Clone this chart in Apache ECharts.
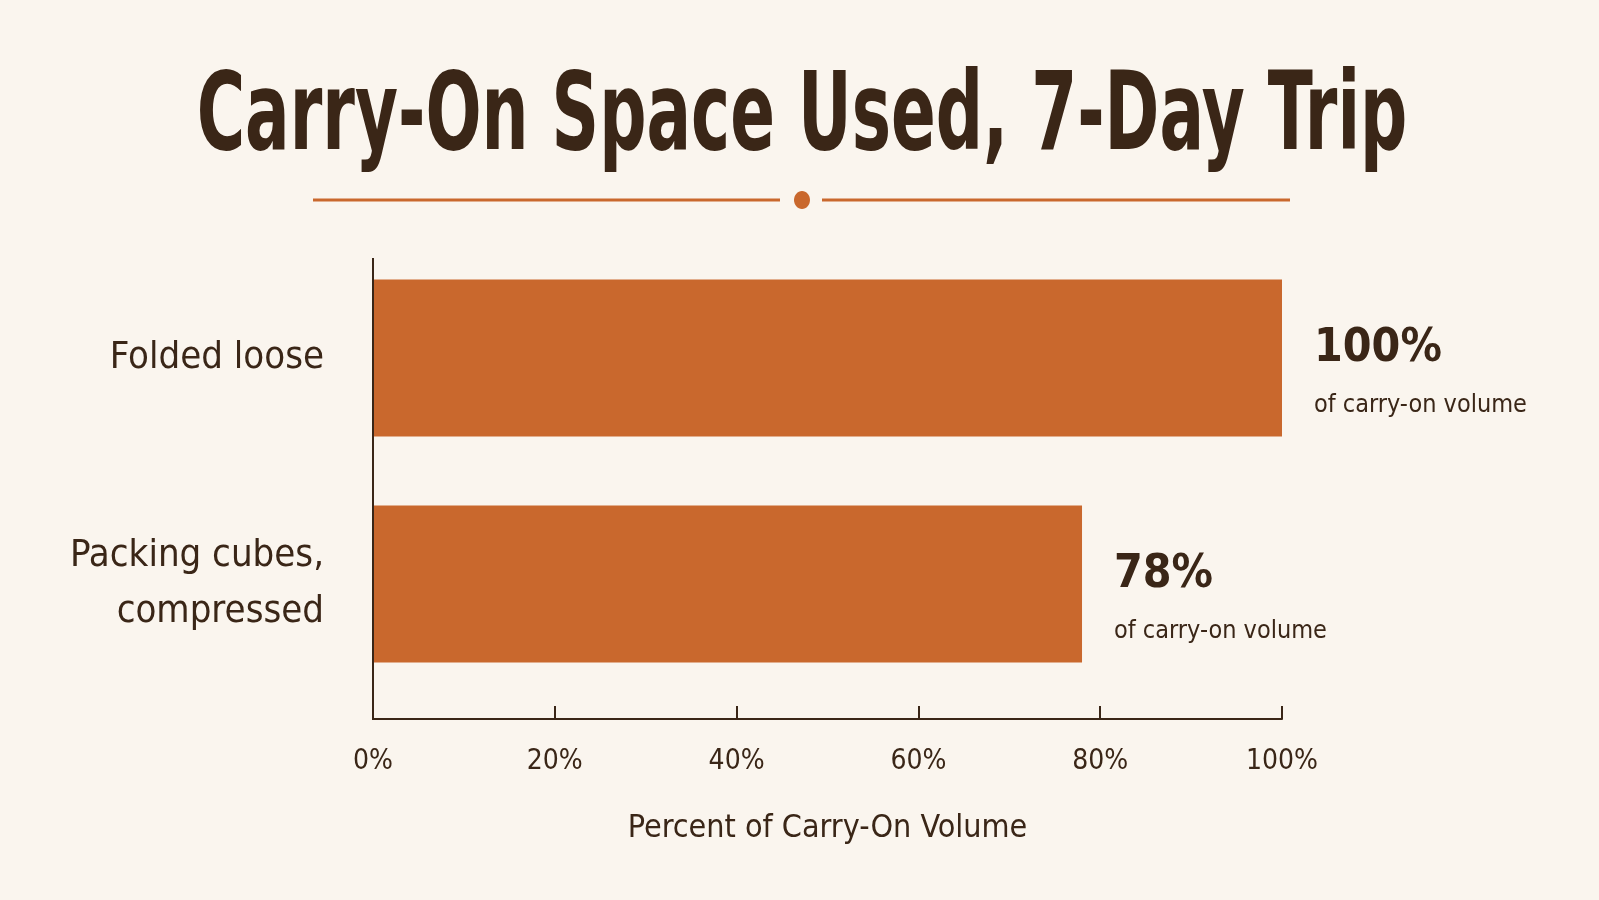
<!DOCTYPE html>
<html>
<head>
<meta charset="utf-8">
<style>
  html, body { margin: 0; padding: 0; background: #faf5ee; }
  #chart { width: 1599px; height: 900px; }
</style>
<script src="https://cdn.jsdelivr.net/npm/echarts@6/dist/echarts.min.js"></script>
</head>
<body>
<div id="chart"></div>
<script>
var categories = ["Folded loose", "Packing cubes,\ncompressed"];
var values = [100, 78];
var tickLabels = ["0%", "20%", "40%", "60%", "80%", "100%"];
var titleText = "Carry-On Space Used, 7-Day Trip";
var axisName = "Percent of Carry-On Volume";
var subLabel = "of carry-on volume";

var font = "'DejaVu Sans Condensed', 'DejaVu Sans', sans-serif";
var dark = "#3a2617";
var orange = "#c9682d";

var dom = document.getElementById("chart");
var myChart = echarts.init(dom);

option = {
    backgroundColor: "#faf5ee",
    textStyle: { fontFamily: font, color: dark },
    grid: { left: 373, right: 317, top: 245, height: 452 },
    xAxis: {
        type: "value",
        min: 0,
        max: 100,
        interval: 20,
        offset: 22,
        axisLine: { show: true, lineStyle: { color: dark, width: 2 } },
        axisTick: { show: true, inside: true, length: 13, lineStyle: { color: dark, width: 2 } },
        splitLine: { show: false },
        axisLabel: {
            margin: 29,
            fontSize: 28,
            color: dark,
            fontFamily: font,
            formatter: function (v) { return tickLabels[v / 20]; }
        },
        name: axisName,
        nameLocation: "middle",
        nameGap: 94,
        nameTextStyle: { fontSize: 32, color: dark, fontFamily: font }
    },
    yAxis: {
        type: "category",
        inverse: true,
        data: categories,
        axisLine: { show: false },
        axisTick: { show: false },
        axisLabel: {
            margin: 49,
            fontSize: 38,
            lineHeight: 56,
            color: dark,
            fontFamily: font,
            align: "right"
        }
    },
    series: [{
        type: "bar",
        data: values,
        barWidth: 157,
        itemStyle: { color: orange },
        label: {
            show: true,
            position: "right",
            distance: 32,
            align: "left",
            offset: [0, 13],
            formatter: function (p) { return "{v|" + p.value + "%}\n{s|" + subLabel + "}"; },
            rich: {
                v: { fontSize: 46, fontWeight: "bold", color: dark, fontFamily: font, lineHeight: 68 },
                s: { fontSize: 25, color: dark, fontFamily: font, lineHeight: 44 }
            }
        }
    }],
    graphic: [
        {
            type: "text",
            x: 802, y: 121,
            scaleX: 0.68,
            style: {
                text: titleText,
                font: "bold 108px " + font,
                fill: dark,
                textAlign: "center",
                textVerticalAlign: "middle"
            }
        },
        { type: "line", shape: { x1: 313, y1: 200, x2: 780, y2: 200 }, style: { stroke: orange, lineWidth: 3 } },
        { type: "line", shape: { x1: 822, y1: 200, x2: 1290, y2: 200 }, style: { stroke: orange, lineWidth: 3 } },
        { type: "ellipse", shape: { cx: 802, cy: 200, rx: 8, ry: 9 }, style: { fill: orange } },
        { type: "line", shape: { x1: 373, y1: 258, x2: 373, y2: 720 }, style: { stroke: dark, lineWidth: 2 }, z: 100 }
    ]
};
if (option && typeof option === "object") {
    myChart.setOption(option, true);
}
</script>
</body>
</html>
